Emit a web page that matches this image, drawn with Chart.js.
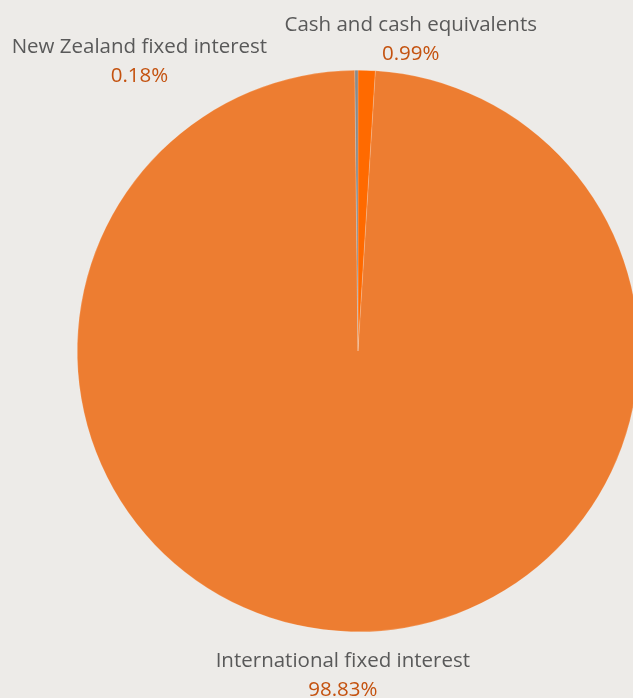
<!DOCTYPE html>
<html>
<head>
<meta charset="utf-8">
<script src="https://cdn.jsdelivr.net/npm/chart.js@4.4.1/dist/chart.umd.min.js"></script>
<style>
  html, body { margin: 0; padding: 0; background: #edebe8; overflow: hidden; }
  #wrap { width: 716px; height: 698px; }
</style>
</head>
<body>
<div id="wrap"><canvas id="pieChart" width="716" height="698"></canvas></div>
<script>
// PORTFOLIO MIX
const categories = ['Cash and cash equivalents', 'International fixed interest', 'New Zealand fixed interest'];
const shares = [0.99, 98.83, 0.18];
const shareLabels = ['0.99%', '98.83%', '0.18%'];
const colours = ['#ff6a00', '#ed7d31', '#8a8a8a'];

// label offsets from the slice's outer edge (Excel nudges the tiny ones apart)
const labelNudge = [
    { dx: 44, dy: -39 },
    { dx: -8, dy: 35 },
    { dx: -217, dy: -17 }
];

const outsideLabels = {
    id: 'outsideLabels',
    afterDatasetsDraw(chart) {
        const ctx = chart.ctx;
        const meta = chart.getDatasetMeta(0);
        ctx.save();
        ctx.textAlign = 'center';
        ctx.textBaseline = 'alphabetic';
        meta.data.forEach((arc, i) => {
            const mid = (arc.startAngle + arc.endAngle) / 2;
            const x = arc.x + Math.cos(mid) * arc.outerRadius + labelNudge[i].dx;
            const y = arc.y + Math.sin(mid) * arc.outerRadius + labelNudge[i].dy;
            ctx.font = '20.5px "Open Sans"';
            ctx.fillStyle = '#595959';
            ctx.fillText(categories[i], x, y);
            ctx.fillStyle = '#c4520f';
            ctx.fillText(shareLabels[i], x, y + 29);
        });
        ctx.restore();
    }
};

new Chart(document.getElementById('pieChart'), {
    type: 'pie',
    data: {
        labels: categories,
        datasets: [{
            data: shares,
            backgroundColor: colours,
            borderColor: 'rgba(255,255,255,0.35)',
            borderWidth: 0.5
        }]
    },
    options: {
        responsive: false,
        animation: false,
        layout: { padding: { top: 70, bottom: 66 } },
        plugins: {
            legend: { display: false },
            tooltip: { enabled: false }
        }
    },
    plugins: [outsideLabels]
});
</script>
</body>
</html>
